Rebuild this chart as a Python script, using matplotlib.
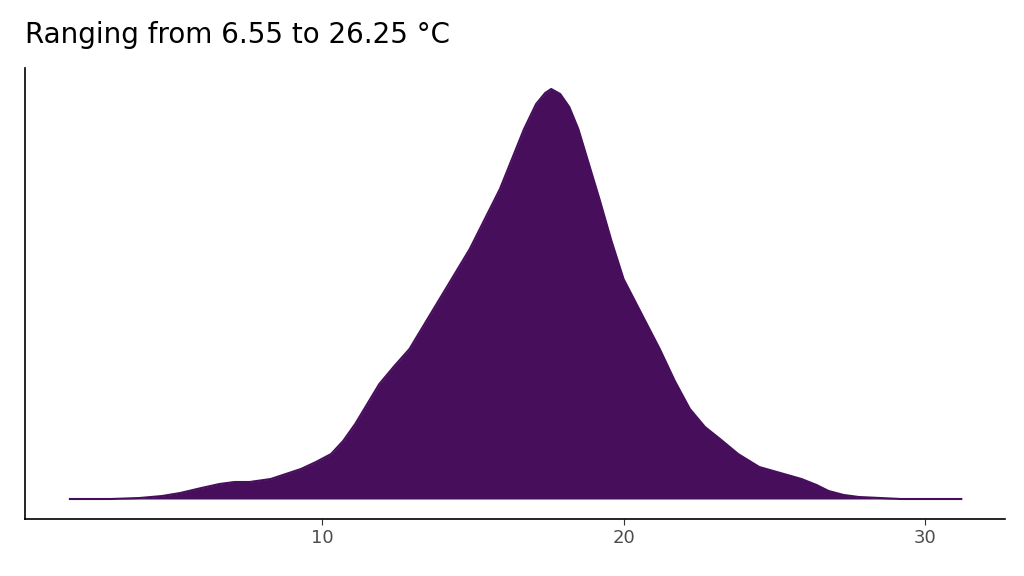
import numpy as np
import matplotlib.pyplot as plt

# temperature (°C) and density
temp = [1.64, 3.0, 3.96, 4.7, 5.3, 6.0, 6.6, 7.1, 7.6, 8.3, 8.8, 9.3, 9.8, 10.3, 10.7, 11.1,
        11.5, 11.9, 12.4, 12.9, 13.4, 13.9, 14.4, 14.9, 15.4, 15.9, 16.3, 16.7, 17.1, 17.4,
        17.6, 17.9, 18.2, 18.5, 18.8, 19.2, 19.6, 20.0, 20.6, 21.2, 21.7, 22.2, 22.7, 23.2,
        23.8, 24.5, 25.2, 25.9, 26.4, 26.8, 27.3, 27.8, 28.5, 29.2, 31.2]
height = [0, 0, 1, 3, 6, 11, 15, 17, 17, 20, 25, 30, 37, 45, 58, 75,
          95, 115, 133, 150, 175, 200, 225, 250, 280, 310, 340, 370, 395, 406,
          410, 405, 392, 370, 340, 300, 258, 220, 185, 150, 118, 90, 72, 60,
          45, 32, 26, 20, 14, 8, 4, 2, 1, 0, 0]
density = np.array(height) / 410 * 0.105

fig = plt.figure(figsize=(10.24, 5.76), dpi=100)
ax = fig.add_axes([25 / 1024, 57 / 576, 980 / 1024, 451 / 576])
ax.fill_between(temp, 0, density, color="#470E5C", lw=0)
ax.plot(temp, density, color="#470E5C", lw=1.5)

ax.set_xlim(0.15, 32.65)
ax.set_ylim(-20 / 410 * 0.105, 431 / 410 * 0.105)
ax.set_xticks([10, 20, 30])
ax.tick_params(axis="x", labelsize=13, labelcolor="#4D4D4D", length=4, color="#333333")
ax.set_yticks([])
for s in ("top", "right"):
    ax.spines[s].set_visible(False)
for s in ("left", "bottom"):
    ax.spines[s].set_linewidth(1.2)

fig.text(25 / 1024, 1 - 35 / 576, "Ranging from 6.55 to 26.25 °C", fontsize=20, va="center")
fig.savefig("out.png", dpi=100)
